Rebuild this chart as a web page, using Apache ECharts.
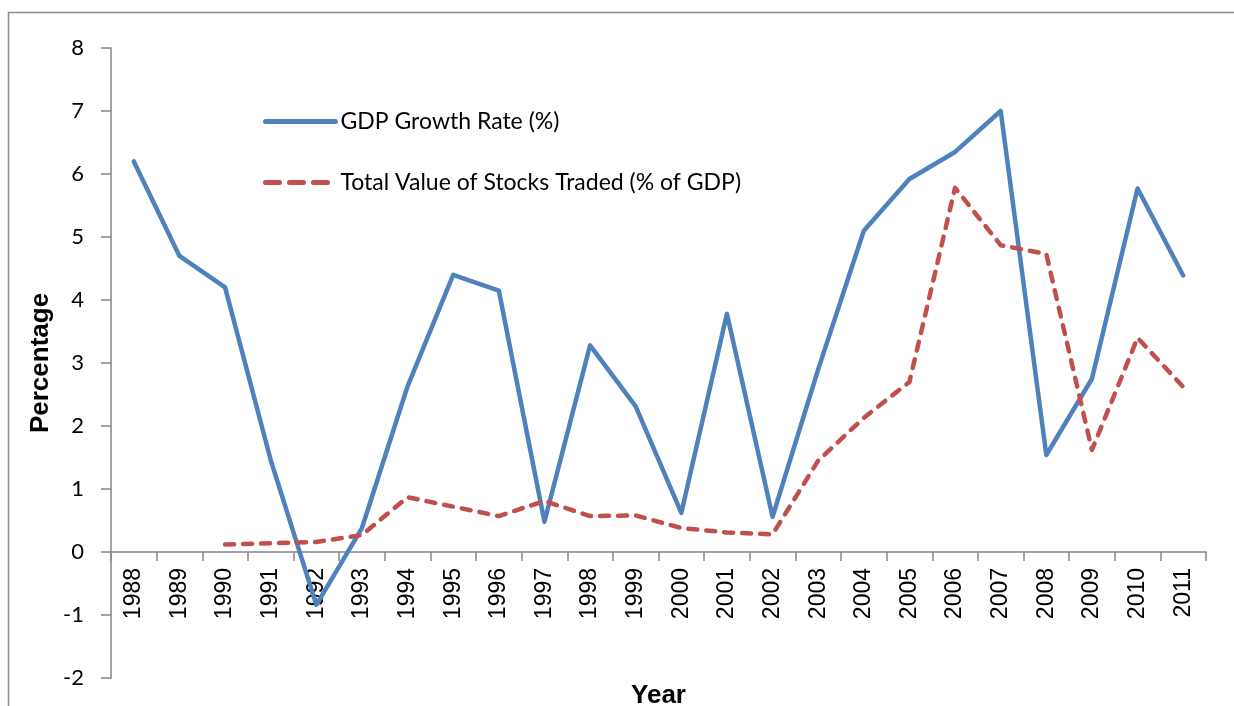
<!DOCTYPE html>
<html>
<head>
<meta charset="utf-8">
<script src="https://cdn.jsdelivr.net/npm/echarts@6/dist/echarts.min.js"></script>
<style>
html,body{margin:0;padding:0;background:#fff;}
#chart{width:1234px;height:706px;}
</style>
</head>
<body>
<div id="chart"></div>
<script>
var years = ['1988','1989','1990','1991','1992','1993','1994','1995','1996','1997','1998','1999','2000','2001','2002','2003','2004','2005','2006','2007','2008','2009','2010','2011'];
var gdpGrowth = [6.2, 4.7, 4.2, 1.46, -0.84, 0.38, 2.63, 4.4, 4.15, 0.48, 3.28, 2.31, 0.62, 3.78, 0.56, 2.9, 5.1, 5.92, 6.35, 7.0, 1.54, 2.75, 5.77, 4.39];
var stocksTraded = [null, null, 0.12, 0.14, 0.16, 0.27, 0.87, 0.72, 0.57, 0.81, 0.57, 0.58, 0.38, 0.31, 0.28, 1.45, 2.13, 2.7, 5.78, 4.87, 4.73, 1.62, 3.4, 2.62];
var yTicks = {min: -2, max: 8, interval: 1};

var chart = echarts.init(document.getElementById('chart'), null, {renderer: 'canvas'});
var axisGray = '#868686';
chart.setOption({
  animation: false,
  backgroundColor: '#ffffff',
  graphic: [{
    type: 'rect', silent: true, z: -1,
    shape: {x: 8.5, y: 12.5, width: 1300, height: 800},
    style: {fill: 'none', stroke: '#8c8c8c', lineWidth: 1.5}
  }],
  legend: {
    orient: 'vertical', left: 263, top: 110, padding: 0,
    itemWidth: 70, itemHeight: 24, itemGap: 38,
    itemStyle: {opacity: 0},
    textStyle: {fontFamily: 'Lato', fontSize: 23, color: '#000'},
    data: [
      {name: 'GDP Growth Rate (%)', itemStyle: {opacity: 0},
       lineStyle: {color: '#4F81BD', width: 5, type: 'solid', cap: 'round'}},
      {name: 'Total Value of Stocks Traded (% of GDP)', itemStyle: {opacity: 0},
       lineStyle: {color: '#C0504D', width: 5, type: [14, 10], cap: 'round'}}
    ]
  },
  grid: {left: 111, right: 28, top: 48, bottom: 28, containLabel: false, outerBoundsMode: 'none'},
  xAxis: {
    type: 'category', data: years, boundaryGap: true,
    name: 'Year', nameLocation: 'middle', nameGap: 131, nameMoveOverlap: false,
    nameTextStyle: {fontFamily: 'Liberation Sans', fontWeight: 'bold', fontSize: 26, color: '#000'},
    axisLine: {onZero: false, lineStyle: {color: axisGray, width: 1.5}},
    axisTick: {show: true, alignWithLabel: false, length: 9, lineStyle: {color: axisGray, width: 1.5}},
    axisLabel: {rotate: 90, interval: 0, margin: 16, fontFamily: 'Liberation Sans', fontSize: 23, color: '#000'}
  },
  yAxis: {
    type: 'value', min: yTicks.min, max: yTicks.max, interval: yTicks.interval,
    name: 'Percentage', nameLocation: 'middle', nameGap: 57, nameRotate: 90, nameMoveOverlap: false,
    nameTextStyle: {fontFamily: 'Liberation Sans', fontWeight: 'bold', fontSize: 26, color: '#000'},
    splitLine: {show: false},
    axisLine: {show: true, lineStyle: {color: axisGray, width: 1.5}},
    axisTick: {show: true, length: 10, lineStyle: {color: axisGray, width: 1.5}},
    axisLabel: {margin: 27, fontFamily: 'Lato', fontSize: 22, color: '#000'}
  },
  series: [{
    name: 'GDP Growth Rate (%)', type: 'line', data: gdpGrowth,
    symbol: 'none', showSymbol: false,
    lineStyle: {color: '#4F81BD', width: 4.5, cap: 'round', join: 'round'},
    itemStyle: {color: '#4F81BD'}
  }, {
    name: 'Total Value of Stocks Traded (% of GDP)', type: 'line', data: stocksTraded,
    symbol: 'none', showSymbol: false,
    lineStyle: {color: '#C0504D', width: 4.5, type: [9, 9], cap: 'round', join: 'round'},
    itemStyle: {color: '#C0504D'}
  }]
});
// move the category axis up onto the zero line (library scale gives the pixel offset)
var yZero = chart.convertToPixel({yAxisIndex: 0}, 0);
var yBottom = chart.convertToPixel({yAxisIndex: 0}, yTicks.min);
chart.setOption({xAxis: {offset: yZero - yBottom}});
</script>
</body>
</html>
